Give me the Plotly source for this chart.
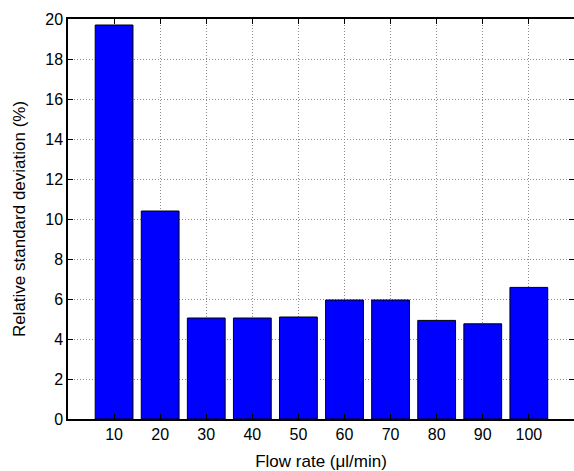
import plotly.graph_objects as go

# flow rates and measured RSD values
flow_rate = [10, 20, 30, 40, 50, 60, 70, 80, 90, 100]
rsd = [19.7, 10.4, 5.05, 5.05, 5.1, 5.95, 5.95, 4.93, 4.76, 6.58]
y_ticks = list(range(0, 21, 2))

font_name = "Liberation Sans, Arial"

fig = go.Figure()
fig.add_trace(go.Bar(
    x=flow_rate,
    y=rsd,
    width=8.2,
    marker=dict(color="rgb(0,0,255)", line=dict(color="black", width=1)),
))

axis_common = dict(
    showline=True,
    linecolor="black",
    linewidth=1.5,
    mirror="ticks",
    ticks="inside",
    ticklen=5,
    tickcolor="black",
    showgrid=True,
    gridcolor="rgb(140,140,140)",
    griddash="1px,2px",
    gridwidth=1,
    zeroline=False,
    automargin=False,
    tickfont=dict(family=font_name, size=16, color="black"),
)

fig.update_xaxes(
    range=[0, 109.8],
    tickvals=flow_rate,
    title=dict(text="Flow rate (μl/min)",
               font=dict(family=font_name, size=17, color="black")),
    **axis_common,
)
fig.update_yaxes(
    range=[0, 20],
    tickvals=y_ticks,
    title=dict(text="Relative standard deviation (%)",
               font=dict(family=font_name, size=17, color="black")),
    **axis_common,
)

fig.update_layout(
    width=574,
    height=471,
    margin=dict(l=68, r=0, t=19, b=52),
    plot_bgcolor="white",
    paper_bgcolor="white",
    showlegend=False,
)

# drop the default page margin so the figure sits at the window corner
fig.write_html("out.html", config={"displayModeBar": False},
               post_script="document.body.style.margin='0';")
